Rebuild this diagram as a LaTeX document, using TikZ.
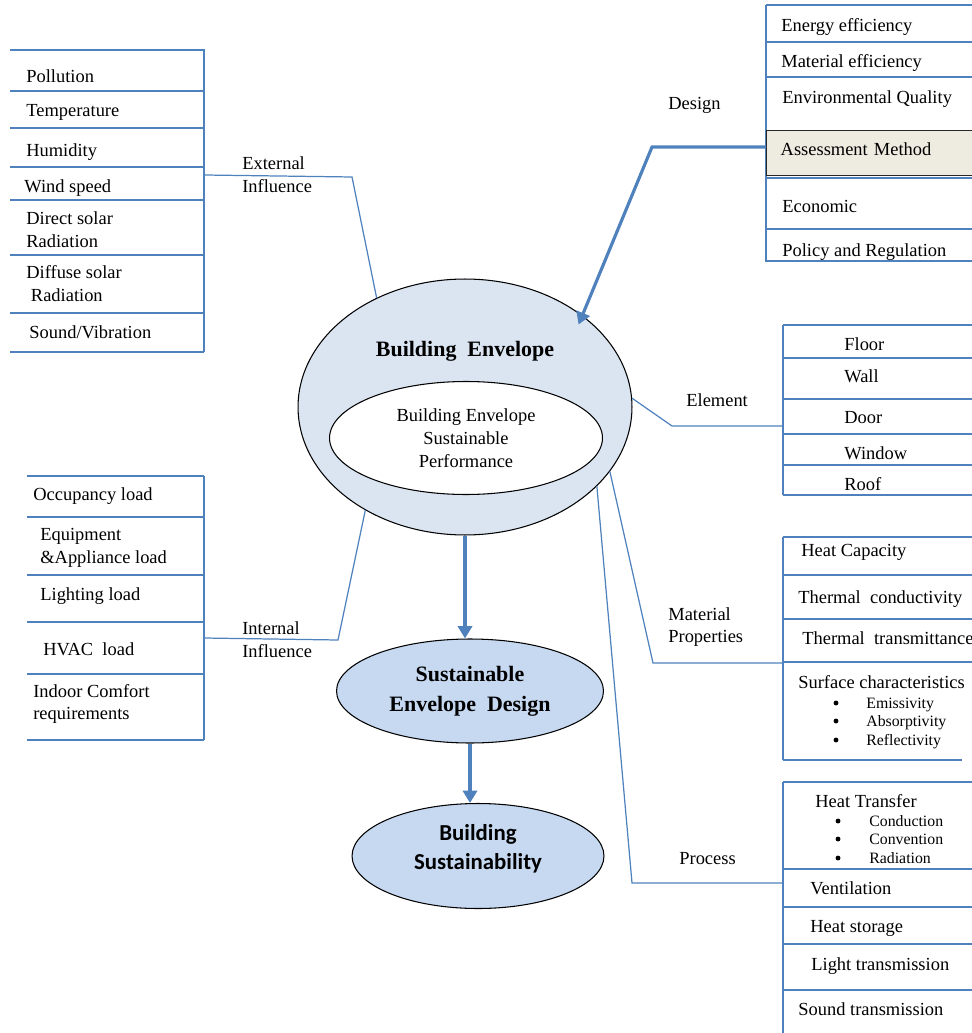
\documentclass[tikz,border=0pt]{standalone}
\usepackage{fontspec}
\setmainfont{Liberation Serif}
\newfontfamily\calibrifont{Carlito}
\usetikzlibrary{shapes.geometric,arrows.meta}
\definecolor{lineblue}{HTML}{4F81BD}
\definecolor{envfill}{HTML}{DBE5F1}
\definecolor{stepfill}{HTML}{C6D9F1}
\definecolor{assessfill}{HTML}{EEECE1}
\tikzset{
  rule/.style={draw=lineblue, line width=0.7pt},
  link/.style={draw=lineblue, line width=0.7pt},
  flow/.style={draw=lineblue, line width=1.8pt, -{Triangle[length=7pt,width=8pt]}},
  entry/.style={anchor=west, inner sep=0pt, text height=7.5pt, text depth=0.5pt,
    font=\fontsize{10.5}{13}\selectfont},
  entries/.style={anchor=west, inner sep=0pt, align=left, font=\fontsize{10.5}{13}\selectfont},
  subentry/.style={anchor=west, inner sep=0pt, text height=6.5pt, text depth=0.5pt,
    font=\fontsize{9}{10}\selectfont},
  dot/.style={circle, fill=black, inner sep=0pt, minimum size=2.8pt},
  bubble/.style={ellipse, draw=black, line width=0.6pt, inner sep=0pt, align=center},
}
% horizontal rules of one list: x from, x to, list of y
\newcommand{\listrules}[3]{\foreach \y in {#3} {\draw[rule] (#1,\y) -- (#2,\y);}}

\begin{document}
\begin{tikzpicture}[x=0.02cm, y=-0.02cm]
\useasboundingbox (0,0) rectangle (971,1033);

% central ellipses
\node[bubble, fill=envfill, minimum width=6.68cm, minimum height=5.12cm] (envelope) at (465,407) {};
\node[font=\fontsize{12.5}{15}\selectfont\bfseries] (envtitle) at (465,351) {Building\ \ Envelope};
\node[bubble, fill=white, minimum width=5.46cm, minimum height=2.26cm,
      font=\fontsize{10.5}{13}\selectfont] (performance) at (466,438)
      {Building Envelope\\Sustainable\\Performance};
\node[bubble, fill=stepfill, minimum width=5.34cm, minimum height=2.08cm,
      font=\fontsize{12.5}{17}\selectfont\bfseries] (envdesign) at (470,691)
      {Sustainable\\Envelope\ \ Design};
\node[bubble, fill=stepfill, minimum width=5.04cm, minimum height=2.1cm] (sustain) at (478,856) {};
\node[align=center, font=\fontsize{13}{16.5}\selectfont\calibrifont\bfseries] (sustaintext)
      at (478,849) {Building\\Sustainability};

\draw[flow] (envelope.south) -- (envelope.south |- envdesign.north);
\draw[flow] (envdesign.south) -- (envdesign.south |- sustain.north);

% external influence
\draw[rule] (204,49) -- (204,352);
\listrules{10}{204}{50,91,128,167,200,255,313,352}
\node[entry] (pollution) at (26,76) {Pollution};
\node[entry] (temperature) at (26,110) {Temperature};
\node[entry] (humidity) at (26,150) {Humidity};
\node[entry] (wind) at (24,186) {Wind speed};
\node[entries] (direct) at (26,230) {Direct solar\\Radiation};
\node[entries] (diffuse) at (26,284) {Diffuse solar\\\ Radiation};
\node[entry] (sound) at (29,332) {Sound/Vibration};
\coordinate (ext) at (204,175);
\node[entries] (extlabel) at (242,175) {External\\Influence};
\draw[link] (ext) -- ++(148,2) -- (envelope.129);

% internal influence
\draw[rule] (204,476) -- (204,740);
\listrules{27}{204}{476,517,575,622,674,740}
\node[entry] (occupancy) at (33,494) {Occupancy load};
\node[entries] (equipment) at (40,548) {Equipment\\\&Appliance load};
\node[entry] (lighting) at (40,594) {Lighting load};
\node[entry] (hvac) at (43,649) {HVAC\ \ load};
\node[entries] (comfort) at (33,704) {Indoor Comfort\\requirements};
\coordinate (int) at (204,638);
\node[entries] (intlabel) at (242,640) {Internal\\Influence};
\draw[link] (int) -- ++(134,2) -- (envelope.226);

% design
\draw[rule] (766,5) -- (766,262);
\listrules{766}{975}{5,42,77,178,229,261}
\node[entry] (energy) at (781,25) {Energy efficiency};
\node[entry] (material) at (781,61) {Material efficiency};
\node[entry] (quality) at (782,97) {Environmental Quality};
\node[entry, minimum height=0.9cm, text width=3.72cm, inner xsep=0.28cm, anchor=north west,
      fill=assessfill, draw=black!85, line width=0.8pt, text depth=4.5pt] (assess) at (766,130) {Assessment Method};
\node[entry] (economic) at (782,206) {Economic};
\node[entry] (policy) at (782,250) {Policy and Regulation};
\node[entry] (designlabel) at (668,103) {Design};
\coordinate (des) at (766,147);
\draw[flow, shorten >=-0.2cm] (des) -- (652,147) -- (envelope.38);

% element
\draw[rule] (783,325) -- (783,495);
\listrules{783}{975}{325,358,399,434,465,495}
\node[entry] (floor) at (844,344) {Floor};
\node[entry] (wall) at (844,376) {Wall};
\node[entry] (door) at (844,417) {Door};
\node[entry] (window) at (844,453) {Window};
\node[entry] (roof) at (844,484) {Roof};
\node[entry] (elemlabel) at (686,400) {Element};
\coordinate (elem) at (783,426);
\draw[link] (envelope.3) -- (672,426) -- (elem);

% material properties
\draw[rule] (783,537) -- (783,760);
\listrules{783}{975}{537,575,619,662}
\draw[rule] (783,760) -- (962,760);
\node[entry] (capacity) at (801,550) {Heat Capacity};
\node[entry] (conductivity) at (798,597) {Thermal\ \ conductivity};
\node[entry] (transmittance) at (802,638) {Thermal\ \ transmittance};
\node[entry] (surface) at (798,682) {Surface characteristics};
\foreach \t/\y [count=\i] in {Emissivity/703, Absorptivity/721, Reflectivity/740}{
  \node[dot] (surfdot\i) at (836,\y) {};
  \node[subentry] (surf\i) at (866,\y) {\t};
}
\node[entries] (matlabel) at (668,627) {Material\\Properties};
\coordinate (mat) at (783,663);
\draw[link] (envelope.336) -- (653,663) -- (mat);

% process
\draw[rule] (783,782) -- (783,1040);
\listrules{783}{975}{782,869,907,944,990}
\node[entry] (transfer) at (815,801) {Heat Transfer};
\foreach \t/\y [count=\i] in {Conduction/821, Convention/839, Radiation/858}{
  \node[dot] (heatdot\i) at (838,\y) {};
  \node[subentry] (heat\i) at (869,\y) {\t};
}
\node[entry] (ventilation) at (810,888) {Ventilation};
\node[entry] (storage) at (810,926) {Heat storage};
\node[entry] (light) at (811,964) {Light transmission};
\node[entry] (soundtr) at (798,1009) {Sound transmission};
\node[entry] (proclabel) at (679,858) {Process};
\coordinate (proc) at (783,883);
\draw[link] (envelope.329) -- (632,883) -- (proc);

\end{tikzpicture}
\end{document}
